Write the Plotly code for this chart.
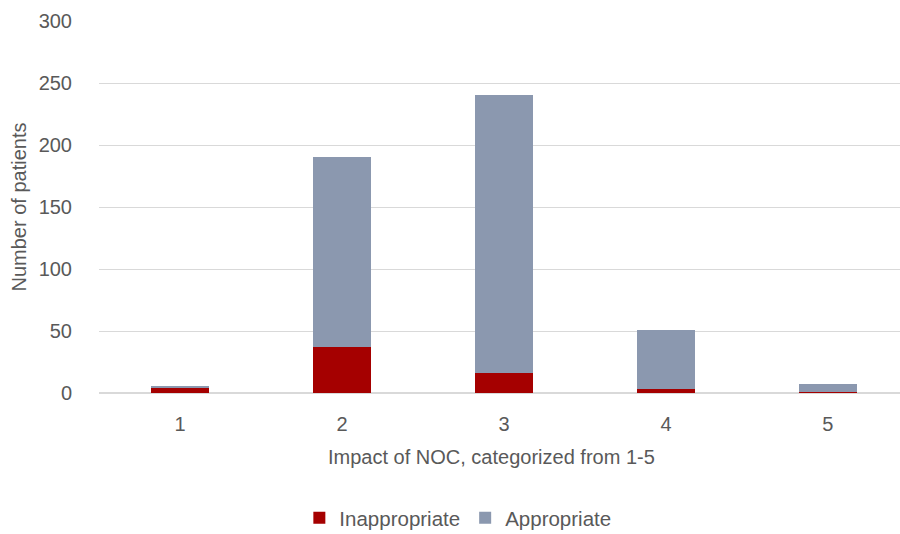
import plotly.graph_objects as go

# Patient counts per NOC impact category
categories = ["1", "2", "3", "4", "5"]
inappropriate = [4, 37, 16, 3, 1]
appropriate = [2, 153, 224, 48, 6]
y_ticks = [0, 50, 100, 150, 200, 250, 300]

RED = "#A50000"
GREY = "#8B98AF"
TEXT = "#595959"
FONT = "Liberation Sans, Arial, sans-serif"

fig = go.Figure()
fig.add_trace(go.Bar(x=categories, y=inappropriate, name="Inappropriate",
                     marker=dict(color=RED, line=dict(width=0))))
fig.add_trace(go.Bar(x=categories, y=appropriate, name="Appropriate",
                     marker=dict(color=GREY, line=dict(width=0))))

fig.update_layout(
    barmode="stack",
    bargap=0.64,
    width=900,
    height=534,
    margin=dict(l=99, r=0, t=21, b=141, autoexpand=False),
    paper_bgcolor="white",
    plot_bgcolor="white",
    font=dict(family=FONT, color=TEXT, size=20),
    legend=dict(orientation="h", x=0.448, xanchor="center",
                yref="container", y=0.03, yanchor="middle",
                font=dict(size=20.5, color=TEXT),
                traceorder="normal", itemwidth=30, tracegroupgap=0),
    xaxis=dict(
        type="category",
        range=[-0.5, 4.445],
        showgrid=False,
        showline=False,
        automargin=False,
        ticks="outside", ticklen=13, tickcolor="rgba(0,0,0,0)",
        tickfont=dict(size=20, color=TEXT),
    ),
    yaxis=dict(
        range=[0, 300],
        tickvals=y_ticks,
        automargin=False,
        showgrid=True, gridcolor="#D9D9D9", gridwidth=1,
        zeroline=True, zerolinecolor="#D9D9D9", zerolinewidth=2,
        showline=False,
        ticks="outside", ticklen=22, tickcolor="rgba(0,0,0,0)",
        tickfont=dict(size=20, color=TEXT),
        title=dict(text="Number of patients",
                   font=dict(size=20, color=TEXT), standoff=6),
    ),
    annotations=[dict(
        text="Impact of NOC, categorized from 1-5",
        xref="paper", yref="paper", x=0.49, y=-0.172,
        xanchor="center", yanchor="middle", showarrow=False,
        font=dict(size=20, color=TEXT),
    )],
)

fig.write_html("out.html")
